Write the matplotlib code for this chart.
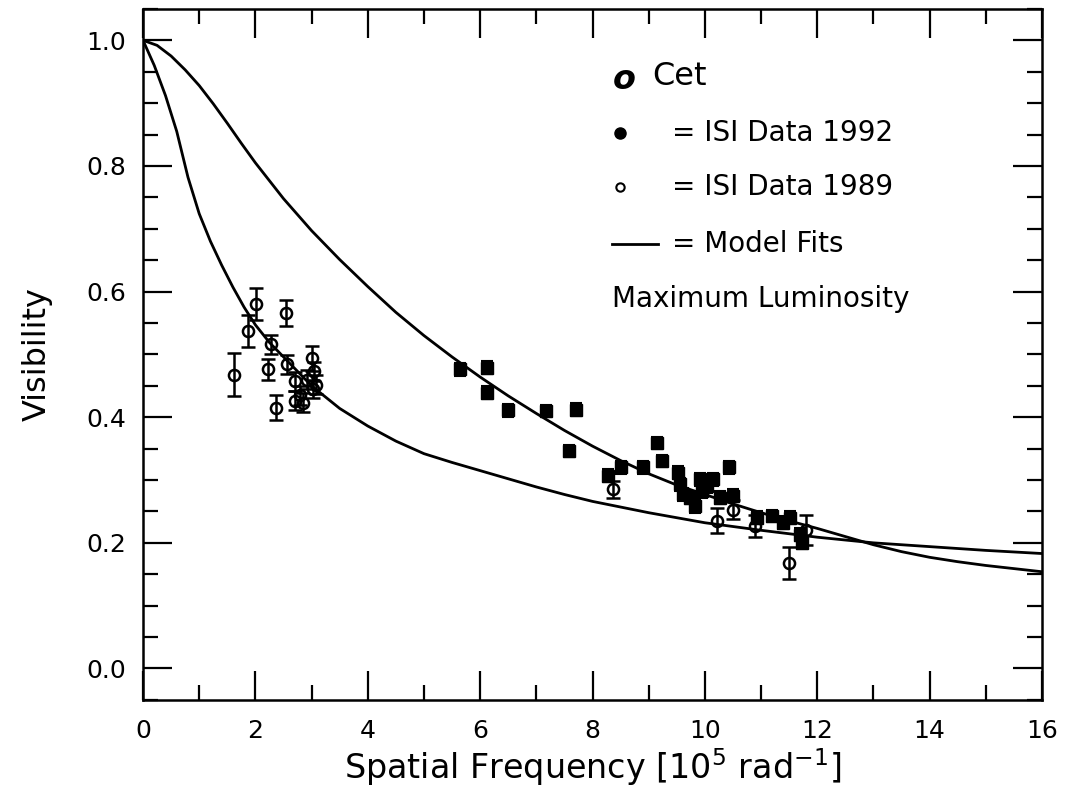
import matplotlib
matplotlib.use("Agg")
import matplotlib.pyplot as plt
from matplotlib.ticker import MultipleLocator

# ISI Data 1992 (filled)
x92 = [5.64, 6.13, 6.13, 6.49, 7.17, 7.70, 7.58, 8.28, 8.50, 8.90, 9.15, 9.23, 9.52,
       9.56, 9.61, 9.73, 9.82, 9.91, 9.94, 10.03, 10.15, 10.27, 10.43, 10.50,
       10.92, 11.20, 11.39, 11.51, 11.69, 11.72]
y92 = [0.476, 0.479, 0.439, 0.411, 0.410, 0.412, 0.346, 0.307, 0.320, 0.320, 0.359, 0.330, 0.312,
       0.293, 0.277, 0.272, 0.258, 0.301, 0.282, 0.290, 0.301, 0.272, 0.320, 0.275,
       0.240, 0.243, 0.232, 0.240, 0.213, 0.200]
e92 = [0.010] * len(x92)

# ISI Data 1989 (open)
x89 = [1.62, 1.87, 2.01, 2.54, 2.27, 2.23, 2.37, 2.57, 2.70, 2.70, 2.80, 2.85, 2.92, 3.00, 3.05, 3.08, 3.02,
       8.37, 10.21, 10.50, 10.89, 11.50, 11.80]
y89 = [0.468, 0.537, 0.580, 0.566, 0.516, 0.476, 0.415, 0.484, 0.457, 0.426, 0.435, 0.423, 0.460, 0.494, 0.473, 0.452, 0.445,
       0.285, 0.235, 0.253, 0.227, 0.168, 0.221]
e89 = [0.035, 0.025, 0.025, 0.020, 0.015, 0.017, 0.020, 0.015, 0.015, 0.015, 0.015, 0.015, 0.015, 0.020, 0.015, 0.015, 0.015,
       0.013, 0.020, 0.015, 0.017, 0.025, 0.024]

# Model fit curves
xfit1 = [0.0, 0.25, 0.5, 0.75, 1.0, 1.25, 1.5, 1.75, 2.0, 2.5, 3.0, 3.5, 4.0, 4.5, 5.0, 5.5, 6.0, 6.5,
         7.0, 7.5, 8.0, 8.5, 9.0, 9.5, 10.0, 10.5, 11.0, 11.5, 12.0, 12.5, 13.0, 13.5, 14.0, 14.5,
         15.0, 15.5, 16.0]
yfit1 = [1.000, 0.992, 0.975, 0.953, 0.928, 0.899, 0.868, 0.836, 0.805, 0.748, 0.697, 0.651, 0.608,
         0.567, 0.530, 0.496, 0.464, 0.434, 0.406, 0.379, 0.354, 0.331, 0.310, 0.292, 0.277, 0.262,
         0.248, 0.235, 0.223, 0.210, 0.197, 0.186, 0.177, 0.170, 0.164, 0.159, 0.154]
xfit2 = [0.0, 0.2, 0.4, 0.6, 0.8, 1.0, 1.2, 1.4, 1.6, 1.8, 2.0, 2.25, 2.5, 2.75, 3.0, 3.5, 4.0,
         4.5, 5.0, 5.5, 6.0, 6.5, 7.0, 7.5, 8.0, 9.0, 10.0, 11.0, 12.0, 13.0, 14.0, 15.0, 16.0]
yfit2 = [1.000, 0.960, 0.912, 0.855, 0.782, 0.724, 0.680, 0.642, 0.607, 0.575, 0.547, 0.519, 0.496,
         0.473, 0.450, 0.414, 0.386, 0.362, 0.342, 0.328, 0.315, 0.302, 0.289, 0.277, 0.266, 0.248,
         0.232, 0.220, 0.209, 0.200, 0.194, 0.188, 0.183]

xticks = [0, 2, 4, 6, 8, 10, 12, 14, 16]
yticks = [0.0, 0.2, 0.4, 0.6, 0.8, 1.0]

plt.rcParams['font.family'] = ['DejaVu Sans']
fig = plt.figure(figsize=(10.65, 8.11), dpi=100)
ax = fig.add_axes([0.1343, 0.137, 0.8441, 0.852])

ax.plot(xfit1, yfit1, color='black', lw=2.0)
ax.plot(xfit2, yfit2, color='black', lw=2.0)

ax.errorbar(x89, y89, yerr=e89, fmt='o', ms=8, mfc='none', mec='black', mew=1.8,
            ecolor='black', elinewidth=1.8, capsize=5, capthick=1.8)
ax.errorbar(x92, y92, yerr=e92, fmt='s', ms=8.3, mfc='black', mec='black',
            ecolor='black', elinewidth=1.5, capsize=4.5, capthick=1.5)

ax.set_xlim(0, 16)
ax.set_ylim(-0.05, 1.05)
ax.set_xticks(xticks)
ax.set_xticklabels([str(v) for v in xticks])
ax.set_yticks(yticks)
ax.set_yticklabels([f"{v:.1f}" for v in yticks])
ax.xaxis.set_minor_locator(MultipleLocator(1))
ax.yaxis.set_minor_locator(MultipleLocator(0.05))
ax.tick_params(which='both', direction='in', top=True, right=True, width=1.6, labelsize=18)
ax.tick_params(which='major', length=21)
ax.tick_params(which='minor', length=11)
ax.tick_params(axis='x', which='major', pad=14)
ax.tick_params(axis='y', which='major', pad=12)
for s in ax.spines.values():
    s.set_linewidth(1.8)

ax.set_xlabel(r"Spatial Frequency [10$^5$ rad$^{-1}$]", fontsize=24, labelpad=2)
ax.set_ylabel("Visibility", fontsize=23, labelpad=24)

# Legend-like annotation
ax.text(8.36, 0.938, "o", fontsize=24, fontweight='bold', style='italic', va='center', ha='left')
ax.text(9.06, 0.943, "Cet", fontsize=23, va='center', ha='left')
ax.plot([8.49], [0.853], marker='o', ms=8, color='black', ls='none')
ax.text(9.41, 0.853, "= ISI Data 1992", fontsize=20, va='center', ha='left')
ax.plot([8.49], [0.766], marker='o', ms=6, mfc='none', mec='black', mew=1.5, ls='none')
ax.text(9.41, 0.766, "= ISI Data 1989", fontsize=20, va='center', ha='left')
ax.plot([8.35, 9.16], [0.675, 0.675], color='black', lw=2)
ax.text(9.41, 0.675, "= Model Fits", fontsize=20, va='center', ha='left')
ax.text(8.35, 0.588, "Maximum Luminosity", fontsize=20, va='center', ha='left')

fig.savefig("out.png", dpi=100)
